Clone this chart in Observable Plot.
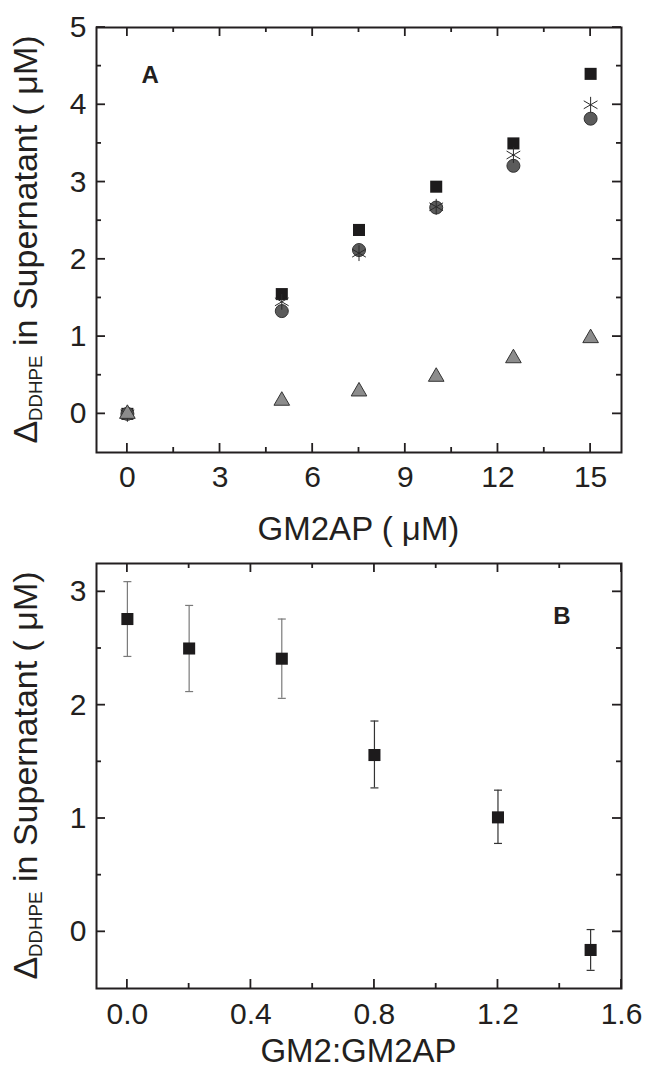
<!DOCTYPE html>
<html><head><meta charset="utf-8">
<script src="https://cdn.jsdelivr.net/npm/d3@7"></script>
<script src="https://cdn.jsdelivr.net/npm/@observablehq/plot@0.6"></script>
<style>
body{margin:0;background:#fff;}
#chart svg{display:block;}
</style></head><body><div id="chart"></div>
<script>
// ---- Panel A data ----
const conc = [0, 5, 7.5, 10, 12.5, 15];
const seriesSquare = [0, 1.55, 2.38, 2.94, 3.50, 4.40];
const seriesStar = [0, 1.45, 2.08, 2.68, 3.35, 4.00];
const seriesCircle = [0, 1.33, 2.12, 2.67, 3.21, 3.82];
const seriesTriangle = [0, 0.17, 0.29, 0.48, 0.72, 0.98];
// ---- Panel B data ----
const ratio = [0, 0.2, 0.5, 0.8, 1.2, 1.5];
const meanB = [2.76, 2.50, 2.41, 1.56, 1.01, -0.16];
const errHi = [3.09, 2.88, 2.76, 1.86, 1.25, 0.02];
const errLo = [2.43, 2.12, 2.06, 1.27, 0.78, -0.34];
// ---- ticks & labels ----
const xTicksA = [0, 3, 6, 9, 12, 15];
const xMinorA = [1.5, 4.5, 7.5, 10.5, 13.5];
const yTicksA = [0, 1, 2, 3, 4, 5];
const yMinorA = [0.5, 1.5, 2.5, 3.5, 4.5];
const xTicksB = [0, 0.4, 0.8, 1.2, 1.6];
const xMinorB = [0.2, 0.6, 1.0, 1.4];
const yTicksB = [0, 1, 2, 3];
const yMinorB = [0.5, 1.5, 2.5];
const xLabelA = "GM2AP ( μM)";
const xLabelB = "GM2:GM2AP";
const yLabelDelta = "Δ";
const yLabelSub = "DDHPE";
const yLabelRest = " in Supernatant ( μM)";
const panelA = "A", panelB = "B";

const INK = "#231f20";
const FONT = "'Liberation Sans', Arial, Helvetica, sans-serif";
const TICKF = 30, LABF = 33, YLABF = 34;
const W = 647, ML = 96, MR = 26, FW = W - ML - MR, FH = 425;

// inward-pointing ticks on all four sides, positioned through the plot's own scales
function addTicks(svg, xT, xM, yT, yM, top) {
  const sx = svg.scale("x"), sy = svg.scale("y");
  const x0 = ML, x1 = ML + FW, y0 = top, y1 = top + FH;
  const g = d3.select(svg).append("g").attr("stroke", INK).attr("stroke-width", 1.8);
  const xs = [...xT.map(v => [v, 9]), ...xM.map(v => [v, 5])];
  const ys = [...yT.map(v => [v, 9]), ...yM.map(v => [v, 5])];
  for (const [v, len] of xs) {
    const px = sx.apply(v);
    g.append("line").attr("x1", px).attr("x2", px).attr("y1", y1).attr("y2", y1 - len);
    g.append("line").attr("x1", px).attr("x2", px).attr("y1", y0).attr("y2", y0 + len);
  }
  for (const [v, len] of ys) {
    const py = sy.apply(v);
    g.append("line").attr("y1", py).attr("y2", py).attr("x1", x0).attr("x2", x0 + len);
    g.append("line").attr("y1", py).attr("y2", py).attr("x1", x1).attr("x2", x1 - len);
  }
}

function addLabels(svg, o) {
  const s = d3.select(svg);
  s.append("text").attr("x", o.xc).attr("y", o.xy).attr("text-anchor", "middle")
    .attr("font-family", FONT).attr("font-size", LABF).attr("fill", INK).text(o.xlabel);
  const t = s.append("text").attr("transform", `translate(${o.yx},${o.yc}) rotate(-90)`)
    .attr("text-anchor", "middle").attr("font-family", FONT).attr("font-size", YLABF).attr("fill", INK);
  t.append("tspan").text(yLabelDelta);
  t.append("tspan").attr("font-size", YLABF * 0.55).attr("dy", 5).text(yLabelSub);
  t.append("tspan").attr("dy", -5).text(yLabelRest);
}

const rowsA = conc.map((c, i) => ({c, sq: seriesSquare[i], st: seriesStar[i], ci: seriesCircle[i], tr: seriesTriangle[i]}));
const rowsB = ratio.map((r, i) => ({r, m: meanB[i], hi: errHi[i], lo: errLo[i], i}));

const capSymbol = {draw(ctx) { ctx.moveTo(-4, 0); ctx.lineTo(4, 0); }};
const errColor = d => d.i < 3 ? "#7a7a7a" : "#333";

// ---- Panel A ----
const hA = 552, mtA = 27, mbA = hA - mtA - FH;
const svgA = Plot.plot({
  width: W, height: hA,
  marginTop: mtA, marginBottom: mbA, marginLeft: ML, marginRight: MR,
  style: {fontFamily: FONT, color: INK, background: "#fff"},
  x: {domain: [-1, 16]},
  y: {domain: [-0.5, 5]},
  marks: [
    Plot.frame({stroke: INK, strokeWidth: 2}),
    Plot.axisX(xTicksA, {anchor: "bottom", tickSize: 0, tickPadding: 13, fontSize: TICKF, label: null, tickFormat: d3.format("d")}),
    Plot.axisY(yTicksA, {anchor: "left", tickSize: 0, tickPadding: 10, fontSize: TICKF, label: null, tickFormat: d3.format("d")}),
    Plot.dot(rowsA, {x: "c", y: "sq", symbol: "square", r: 6.8, fill: "#1d1b1c"}),
    Plot.dot(rowsA, {x: "c", y: "ci", symbol: "circle", r: 6.5, fill: "#5b5b5b", stroke: "#333", strokeWidth: 1}),
    Plot.dot(rowsA, {x: "c", y: "st", symbol: "asterisk", r: 7.5, stroke: "#2a2a2a", strokeWidth: 1}),
    Plot.dot(rowsA, {x: "c", y: "tr", symbol: "triangle", r: 5.8, fill: "#8c8c8c", stroke: "#333", strokeWidth: 1}),
    Plot.text([panelA], {frameAnchor: "top-left", dx: 45, dy: 38, fontSize: 24, fontWeight: "bold", fill: INK})
  ]
});
addTicks(svgA, xTicksA, xMinorA, yTicksA, yMinorA, mtA);
addLabels(svgA, {xc: ML + FW / 2, xy: 540, xlabel: xLabelA, yx: 37, yc: mtA + FH / 2});

// ---- Panel B ----
const hB = 1071 - hA, mtB = 563 - hA, mbB = hB - mtB - FH;
const svgB = Plot.plot({
  width: W, height: hB,
  marginTop: mtB, marginBottom: mbB, marginLeft: ML, marginRight: MR,
  style: {fontFamily: FONT, color: INK, background: "#fff"},
  x: {domain: [-0.1, 1.6]},
  y: {domain: [-0.5, 3.25]},
  marks: [
    Plot.frame({stroke: INK, strokeWidth: 2}),
    Plot.axisX(xTicksB, {anchor: "bottom", tickSize: 0, tickPadding: 14, fontSize: TICKF, label: null, tickFormat: d3.format(".1f")}),
    Plot.axisY(yTicksB, {anchor: "left", tickSize: 0, tickPadding: 10, fontSize: TICKF, label: null, tickFormat: d3.format("d")}),
    Plot.ruleX(rowsB, {x: "r", y1: "lo", y2: "hi", stroke: errColor, strokeWidth: 1.2}),
    Plot.dot(rowsB, {x: "r", y: "hi", symbol: capSymbol, stroke: errColor, strokeWidth: 1.2}),
    Plot.dot(rowsB, {x: "r", y: "lo", symbol: capSymbol, stroke: errColor, strokeWidth: 1.2}),
    Plot.dot(rowsB, {x: "r", y: "m", symbol: "square", r: 6.8, fill: "#1d1b1c"}),
    Plot.text([panelB], {frameAnchor: "top-right", dx: -51, dy: 43, fontSize: 24, fontWeight: "bold", fill: INK})
  ]
});
addTicks(svgB, xTicksB, xMinorB, yTicksB, yMinorB, mtB);
addLabels(svgB, {xc: ML + FW / 2, xy: 1062 - hA, xlabel: xLabelB, yx: 37, yc: mtB + FH / 2});

document.getElementById("chart").append(svgA, svgB);
</script></body></html>
